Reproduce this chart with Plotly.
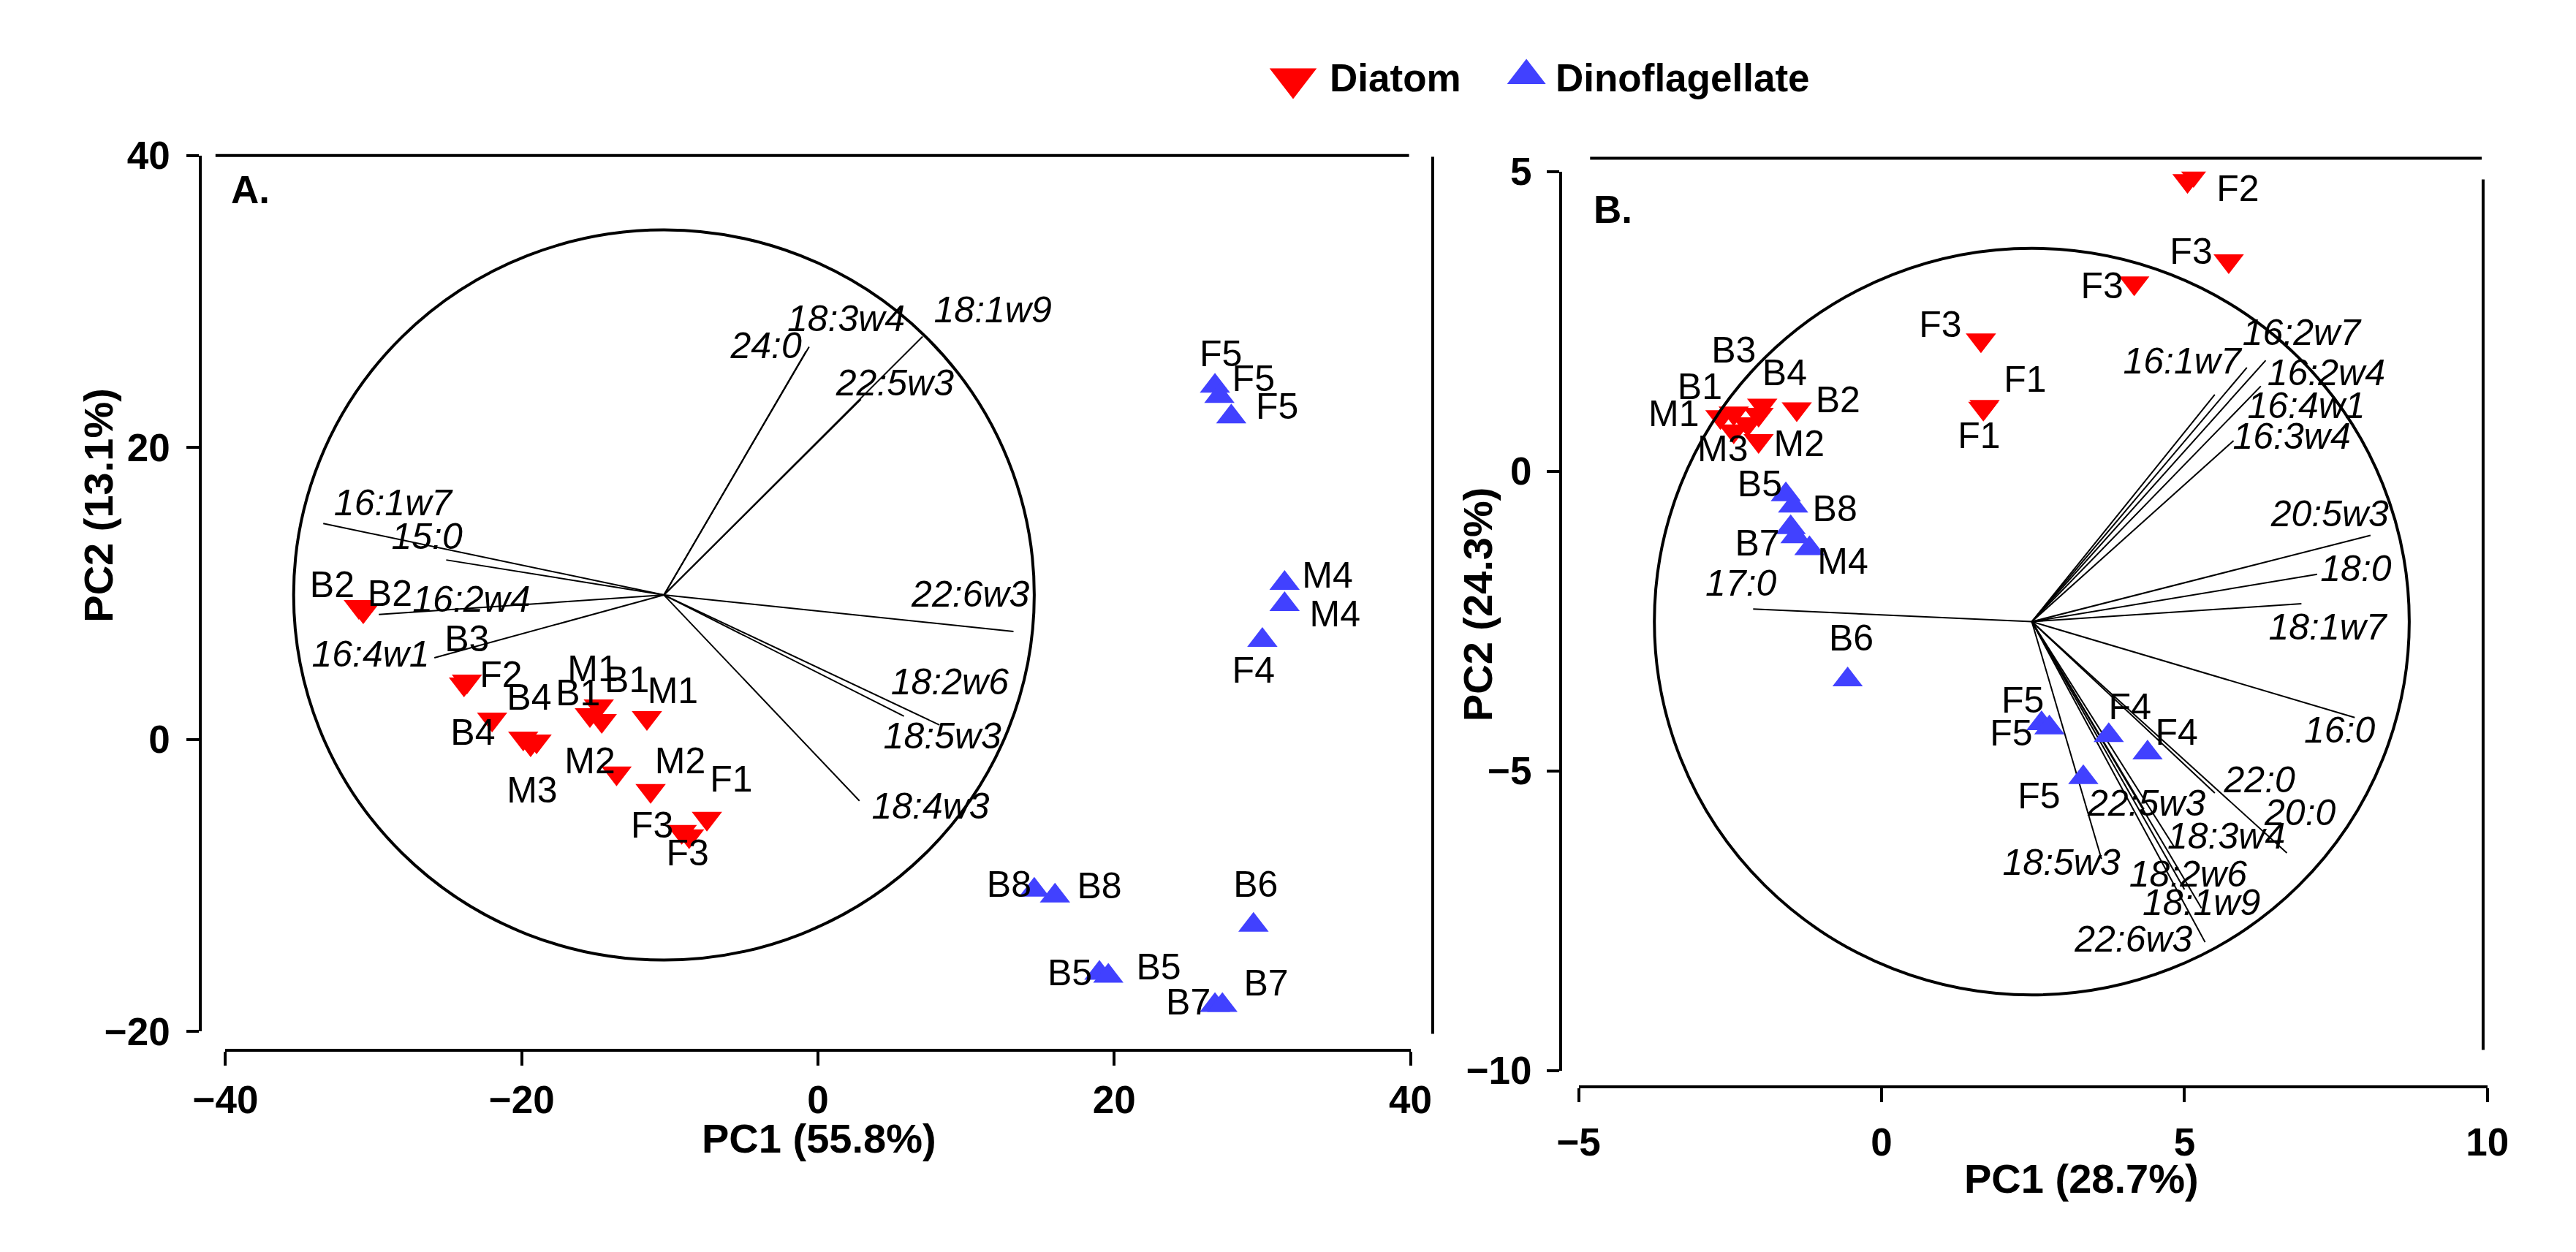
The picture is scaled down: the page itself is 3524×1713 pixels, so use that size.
import plotly.graph_objects as go

# ---------------- data: panel A ----------------
diatomA_x = [-31.0, -30.7, -23.9, -23.7, -22.0, -19.9, -19.4, -19.0, -14.8, -15.4, -14.6, -11.55, -13.6, -11.3, -7.5, -9.2, -8.7]
diatomA_y = [9.1, 8.8, 3.8, 4.0, 1.4, 0.1, -0.3, -0.1, 2.3, 1.7, 1.3, 1.5, -2.3, -3.5, -5.4, -6.3, -6.6]
dinoA_x = [26.8, 27.1, 27.9, 31.5, 31.5, 30.0, 14.6, 16.0, 29.4, 19.0, 19.6, 26.8, 27.3]
dinoA_y = [24.2, 23.5, 22.1, 10.7, 9.25, 6.8, -10.3, -10.7, -12.7, -16.0, -16.2, -18.2, -18.2]

sampleA_text = ["B2", "B2", "B3", "F2", "B4", "B4", "M3", "M1", "B1", "B1", "M1", "M2", "M2", "F1", "F3", "F3",
                "F5", "F5", "F5", "M4", "M4", "F4", "B8", "B8", "B6", "B5", "B5", "B7", "B7"]
sampleA_tx = [-32.8, -28.9, -23.7, -21.4, -19.5, -23.3, -19.3, -15.2, -12.9, -16.2, -9.8, -15.4, -9.3, -5.85, -11.2, -8.8,
              27.2, 29.4, 31.0, 34.4, 34.9, 29.4, 12.9, 19.0, 29.55, 17.0, 23.0, 30.25, 25.0]
sampleA_ty = [10.4, 9.8, 6.7, 4.2, 2.65, 0.26, -3.7, 4.6, 3.85, 2.95, 3.1, -1.7, -1.7, -2.95, -6.1, -8.0,
              26.2, 24.5, 22.6, 11.05, 8.4, 4.5, -10.15, -10.25, -10.15, -16.2, -15.8, -16.9, -18.2]

centerA = (-10.4, 9.9)
circleA_r = 25.0
loadA_names = ["16:1w7", "15:0", "16:2w4", "16:4w1", "24:0", "18:3w4", "18:1w9", "22:5w3", "22:6w3", "18:2w6", "18:5w3", "18:4w3"]
loadA_x = [-33.4, -25.1, -29.65, -25.9, -0.8, -0.6, 7.06, 2.9, 13.2, 5.8, 8.2, 2.8]
loadA_y = [14.8, 12.3, 8.57, 5.6, 26.6, 26.9, 27.6, 23.3, 7.4, 1.6, 1.0, -4.2]
loadA_tx = [-28.7, -26.4, -23.4, -30.2, -3.5, 1.9, 11.8, 5.2, 10.3, 8.9, 8.4, 7.6]
loadA_ty = [16.0, 13.7, 9.4, 5.6, 26.75, 28.6, 29.2, 24.2, 9.75, 3.7, 0.0, -4.8]

# ---------------- data: panel B ----------------
diatomB_x = [5.15, 5.05, 5.73, 4.17, 1.64, 1.70, 1.68, -2.66, -2.44, -1.97, -2.03, -1.40, -2.44, -2.03, -2.21]
diatomB_y = [4.95, 4.85, 3.51, 3.14, 2.19, 1.08, 1.05, 0.91, 0.97, 1.10, 0.95, 1.04, 0.67, 0.51, 0.79]
dinoB_x = [-1.58, -1.46, -1.50, -1.42, -1.19, -0.56, 2.64, 2.77, 3.75, 4.39, 3.33]
dinoB_y = [-0.39, -0.58, -0.94, -1.09, -1.29, -3.48, -4.21, -4.28, -4.41, -4.70, -5.11]

sampleB_text = ["F2", "F3", "F3", "F3", "F1", "F1", "B3", "B1", "M1", "B4", "B2", "M3", "M2",
                "B5", "B8", "B7", "M4", "B6", "F5", "F5", "F4", "F4", "F5"]
sampleB_tx = [5.88, 5.11, 3.64, 0.97, 2.37, 1.61, -2.44, -3.0, -3.43, -1.6, -0.72, -2.62, -1.36,
              -2.01, -0.77, -2.05, -0.64, -0.5, 2.33, 2.14, 4.10, 4.87, 2.6]
sampleB_ty = [4.66, 3.61, 3.04, 2.39, 1.48, 0.54, 1.97, 1.36, 0.91, 1.59, 1.14, 0.32, 0.40,
              -0.27, -0.68, -1.25, -1.56, -2.84, -3.87, -4.42, -3.98, -4.41, -5.47]

centerB = (2.48, -2.51)
circleB_r = 6.23
loadB_names = ["16:2w7", "16:1w7", "16:2w4", "16:4w1", "16:3w4", "20:5w3", "18:0", "18:1w7", "17:0", "16:0",
               "22:0", "20:0", "18:3w4", "22:5w3", "18:2w6", "18:1w9", "22:6w3", "18:5w3"]
loadB_x = [6.34, 5.50, 6.03, 6.26, 5.81, 8.07, 7.19, 6.93, -2.12, 7.81, 5.50, 6.69, 4.83, 4.33, 5.0, 5.28, 5.34, 3.63]
loadB_y = [1.85, 1.28, 1.73, 1.42, 0.51, -1.07, -1.72, -2.21, -2.30, -4.11, -5.37, -6.37, -6.27, -5.64, -6.98, -7.29, -7.86, -6.47]
loadB_tx = [6.93, 4.96, 7.34, 7.01, 6.77, 7.40, 7.83, 7.36, -2.32, 7.56, 6.24, 6.91, 5.69, 4.375, 5.06, 5.28, 4.16, 2.97]
loadB_ty = [2.26, 1.79, 1.59, 1.04, 0.53, -0.76, -1.68, -2.65, -1.93, -4.37, -5.21, -5.76, -6.15, -5.60, -6.78, -7.25, -7.86, -6.58]

# ticks / titles
ticksA_x = [-40, -20, 0, 20, 40]
ticksA_y = [-20, 0, 20, 40]
ticksB_x = [-5, 0, 5, 10]
ticksB_y = [-10, -5, 0, 5]
groups = ["Diatom", "Dinoflagellate"]
titleA_x, titleA_y = "PC1 (55.8%)", "PC2 (13.1%)"
titleB_x, titleB_y = "PC1 (28.7%)", "PC2 (24.3%)"

# ---------------- style / layout helpers ----------------
RED = "#FF0000"
BLUE = "#4141FF"
FONT = "Liberation Sans, Arial, sans-serif"
OFF = 8                      # browser body margin
FW, FH = 3524 - 2 * OFF, 1713 - 2 * OFF


def PX(px):
    return (px - OFF) / FW


def PY(py):
    return 1 - (py - OFF) / FH


fig = go.Figure()


def add_panel(xa, ya, dx, dy, nx, ny, c, loadx, loady, lnames, ltx, lty, stext, stx, sty):
    lx, ly = [], []
    for ex, ey in zip(loadx, loady):
        lx += [c[0], ex, None]
        ly += [c[1], ey, None]
    fig.add_trace(go.Scatter(x=lx, y=ly, mode="lines", line=dict(color="black", width=2),
                             xaxis=xa, yaxis=ya, showlegend=False, hoverinfo="skip"))
    fig.add_trace(go.Scatter(x=dx, y=dy, mode="markers", xaxis=xa, yaxis=ya, showlegend=False,
                             marker=dict(symbol="triangle-down", size=36, color=RED, line=dict(width=0))))
    fig.add_trace(go.Scatter(x=nx, y=ny, mode="markers", xaxis=xa, yaxis=ya, showlegend=False,
                             marker=dict(symbol="triangle-up", size=36, color=BLUE, line=dict(width=0))))
    fig.add_trace(go.Scatter(x=ltx, y=lty, text=lnames, mode="text", xaxis=xa, yaxis=ya, showlegend=False,
                             cliponaxis=False, textposition="middle center",
                             textfont=dict(family=FONT, size=50, color="black", style="italic")))
    fig.add_trace(go.Scatter(x=stx, y=sty, text=stext, mode="text", xaxis=xa, yaxis=ya, showlegend=False,
                             cliponaxis=False, textposition="middle center",
                             textfont=dict(family=FONT, size=50, color="black")))


add_panel("x", "y", diatomA_x, diatomA_y, dinoA_x, dinoA_y, centerA, loadA_x, loadA_y, loadA_names,
          loadA_tx, loadA_ty, sampleA_text, sampleA_tx, sampleA_ty)
add_panel("x2", "y2", diatomB_x, diatomB_y, dinoB_x, dinoB_y, centerB, loadB_x, loadB_y, loadB_names,
          loadB_tx, loadB_ty, sampleB_text, sampleB_tx, sampleB_ty)

# legend markers on an invisible full-page axis pair (paper units)
leg_x = [PX(1761), PX(2087)]
leg_y = [PY(81), PY(77)]
fig.add_trace(go.Scatter(x=[leg_x[0]], y=[leg_y[0]], mode="markers", xaxis="x3", yaxis="y3", showlegend=False,
                         cliponaxis=False, marker=dict(symbol="triangle-down", size=56, color=RED)))
fig.add_trace(go.Scatter(x=[leg_x[1]], y=[leg_y[1]], mode="markers", xaxis="x3", yaxis="y3", showlegend=False,
                         cliponaxis=False, marker=dict(symbol="triangle-up", size=46, color=BLUE)))

tickfont = dict(family=FONT, size=53, color="black", weight="bold")
common = dict(showgrid=False, zeroline=False, showline=True, linecolor="black", linewidth=4,
              ticks="outside", tickwidth=4, tickcolor="black", tickfont=tickfont, tickmode="array")

fig.update_layout(
    width=FW, height=FH, autosize=False,
    margin=dict(l=0, r=0, t=0, b=0),
    paper_bgcolor="white", plot_bgcolor="rgba(0,0,0,0)",
    xaxis=dict(domain=[PX(269), PX(1925)], range=[-40, 40], anchor="free", position=PY(1458),
               tickvals=ticksA_x, ticklen=19, ticklabelstandoff=2, **common),
    yaxis=dict(domain=[PY(1432), PY(190)], range=[-20, 40], anchor="free", position=PX(234),
               tickvals=ticksA_y, ticklen=17, ticklabelstandoff=12, **common),
    xaxis2=dict(domain=[PX(2160), PX(3430)], range=[-5, 10], anchor="free", position=PY(1510),
                tickvals=ticksB_x, ticklen=19, ticklabelstandoff=10, **common),
    yaxis2=dict(domain=[PY(1487), PY(213)], range=[-10, 5], anchor="free", position=PX(2135),
                tickvals=ticksB_y, ticklen=17, ticklabelstandoff=10, **common),
    xaxis3=dict(domain=[0, 1], range=[0, 1], visible=False, anchor="y3", fixedrange=True),
    yaxis3=dict(domain=[0, 1], range=[0, 1], visible=False, anchor="x3", fixedrange=True),
)

# circles and frame lines
fig.add_shape(type="circle", xref="x", yref="y",
              x0=centerA[0] - circleA_r, x1=centerA[0] + circleA_r,
              y0=centerA[1] - circleA_r, y1=centerA[1] + circleA_r, line=dict(color="black", width=4))
fig.add_shape(type="circle", xref="x2", yref="y2",
              x0=centerB[0] - circleB_r, x1=centerB[0] + circleB_r,
              y0=centerB[1] - circleB_r, y1=centerB[1] + circleB_r, line=dict(color="black", width=4))
frame = [(255, 190, 1923, 190), (1956, 192, 1956, 1435), (2176, 194, 3422, 194), (3424, 224, 3424, 1458)]
for x0, y0, x1, y1 in frame:
    fig.add_shape(type="line", xref="paper", yref="paper", x0=PX(x0), y0=PY(y0), x1=PX(x1), y1=PY(y1),
                  line=dict(color="black", width=4))

bold = dict(family=FONT, color="black", weight="bold")
ann = [
    dict(text=groups[0], x=PX(1810), y=PY(80), xanchor="left", yanchor="middle", font=dict(size=53, **bold)),
    dict(text=groups[1], x=PX(2126), y=PY(80), xanchor="left", yanchor="middle", font=dict(size=53, **bold)),
    dict(text=titleA_x, x=PX(1099), y=PY(1583), xanchor="center", yanchor="middle", font=dict(size=56, **bold)),
    dict(text=titleB_x, x=PX(2863), y=PY(1640), xanchor="center", yanchor="middle", font=dict(size=56, **bold)),
    dict(text=titleA_y, x=PX(91), y=PY(686), xanchor="center", yanchor="middle", textangle=-90,
         font=dict(size=56, **bold)),
    dict(text=titleB_y, x=PX(2019), y=PY(826), xanchor="center", yanchor="middle", textangle=-90,
         font=dict(size=56, **bold)),
    dict(text="A.", x=PX(304), y=PY(239), xanchor="center", yanchor="middle", font=dict(size=53, **bold)),
    dict(text="B.", x=PX(2208), y=PY(267), xanchor="center", yanchor="middle", font=dict(size=53, **bold)),
]
for a in ann:
    fig.add_annotation(xref="paper", yref="paper", showarrow=False, **a)

fig.write_html("out.html", config={"displayModeBar": False})
